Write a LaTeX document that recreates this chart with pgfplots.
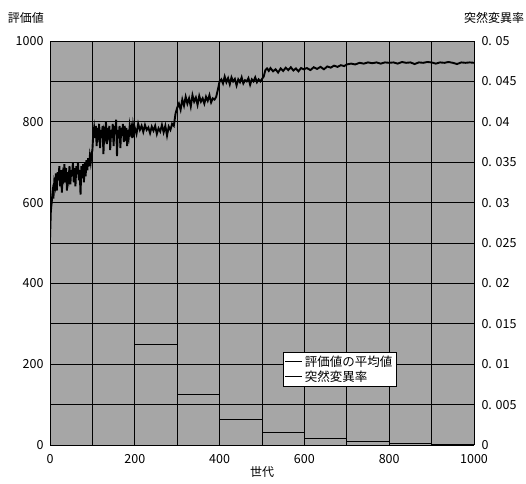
\documentclass[border=0pt]{standalone}
\usepackage{pgfplots}
\pgfplotsset{compat=1.18}
\usepackage{fontspec}
\setmainfont{Noto Sans CJK JP}
\begin{document}
\begin{tikzpicture}
\useasboundingbox (-50pt,-38pt) rectangle (476pt,445pt);
\begin{axis}[
  scale only axis, width=424pt, height=404pt,
  at={(0,0)}, anchor=south west,
  xmin=0, xmax=1000, ymin=0, ymax=1000,
  xtick={0,200,...,1000}, minor xtick={100,300,...,900},
  ytick={0,200,...,1000}, minor ytick={100,300,...,900},
  grid=both,
  major grid style={black, line width=0.7pt},
  minor grid style={black, line width=0.7pt},
  major tick length=0pt, minor tick length=0pt,
  axis y line*=left,
  axis x line*=bottom,
  axis line style={black, line width=0.9pt},
  axis background/.style={fill=gray!70},
  tick label style={font=\fontsize{12.5}{14}\selectfont},
  /pgf/number format/assume math mode=true,
  /pgf/number format/1000 sep={},
  xticklabel style={yshift=-6pt},
  yticklabel style={xshift=-3pt},
  xlabel={世代}, xlabel style={font=\fontsize{12}{14}\selectfont, yshift=4pt},
  clip=true,
]
\addplot[black, line width=1.9pt] coordinates {
(0,510)(2,580)(4,600)(6,625)(8,610)(10,650)(12,640)(14,672)(16,630)(18,675)(20,655)(22,690)(24,640)(26,680)(28,625)(30,670)(32,660)(34,695)(36,650)(38,685)(40,630)(42,675)(44,660)(46,690)(48,645)(50,680)(52,665)(54,700)(56,650)(58,685)(60,640)(62,690)(64,670)(66,700)(68,655)(70,680)(72,620)(74,690)(76,660)(78,695)(80,650)(82,700)(84,665)(86,705)(88,680)(90,710)(92,690)(94,715)(96,700)(98,720)(100,730)
(102,770)(104,785)(106,760)(108,790)(110,740)(112,785)(114,770)(116,795)(118,735)(120,780)(122,760)(124,790)(126,720)(128,775)(130,765)(132,800)(134,745)(136,785)(138,770)(140,790)(142,730)(144,780)(146,760)(148,795)(150,740)(152,790)(154,770)(156,805)(158,715)(160,780)(162,760)(164,790)(166,735)(168,785)(170,765)(172,795)(174,750)(176,790)(178,770)(180,785)(182,740)(184,780)(186,765)(188,790)(190,775)(192,785)(194,760)(196,790)(198,775)(200,785)
(204,770)(208,795)(212,780)(216,790)(220,775)(224,792)(228,780)(232,786)(236,772)(240,788)(244,778)(248,790)(252,770)(256,784)(260,776)(264,792)(268,774)(272,790)(276,766)(280,788)(284,780)(288,795)(292,790)(296,820)(300,835)
(304,845)(308,830)(312,855)(316,840)(320,862)(324,845)(328,858)(332,838)(336,866)(340,850)(344,860)(348,842)(352,864)(356,850)(360,858)(364,845)(368,862)(372,852)(376,866)(380,848)(384,858)(388,855)(392,862)(396,880)(400,900)
(404,905)(408,895)(412,912)(416,898)(420,908)(424,893)(428,910)(432,900)(436,906)(440,890)(444,905)(448,898)(452,910)(456,895)(460,903)(464,900)(468,908)(472,892)(476,905)(480,900)(484,910)(488,898)(492,905)(496,900)(500,906)(504,912)(508,928)(512,932)
(516,926)(520,933)(526,925)(532,930)(538,922)(544,932)(550,926)(556,934)(562,928)(568,935)(574,927)(580,932)(586,925)(592,933)(598,930)
(606,933)(614,928)(622,935)(630,931)(638,936)(646,930)(654,937)(662,934)(670,939)(678,936)(686,940)(694,938)(700,942)
(710,944)(720,942)(730,946)(740,944)(750,947)(760,945)(770,947)(780,944)(790,947)(800,946)(810,947)(820,944)(830,948)(840,946)(850,947)(860,943)(870,947)(880,946)(890,948)(900,947)(910,944)(920,947)(930,946)(940,948)(950,946)(960,943)(970,947)(980,946)(990,947)(1000,946)
};
\end{axis}
\begin{axis}[
  scale only axis, width=424pt, height=404pt,
  at={(0,0)}, anchor=south west,
  xmin=0, xmax=1000, ymin=0, ymax=0.05,
  axis x line=none,
  axis y line*=right,
  axis line style={black, line width=0.9pt},
  major tick length=0pt,
  scaled y ticks=false,
  ytick={0,0.005,...,0.05},
  yticklabels={0,0. 005,0. 01,0. 015,0. 02,0. 025,0. 03,0. 035,0. 04,0. 045,0. 05},
  yticklabel style={font=\fontsize{12.5}{14}\selectfont, anchor=west, xshift=4pt},
  legend style={at={(0.55,0.23)}, anchor=north west, fill=white, draw=black,
    font=\fontsize{12.5}{14}\selectfont, inner sep=1.5pt, row sep=-1pt},
  legend cell align=left,
]
\addlegendimage{black, line width=0.8pt}
\addlegendentry{評価値の平均値}
\addplot[black, line width=0.8pt, const plot] coordinates {
(0,0.05)(100,0.025)(200,0.0125)(300,0.00625)(400,0.003125)(500,0.0015625)(600,0.00078125)(700,0.000390625)(800,0.0001953)(900,0.0000977)(1000,0.0000977)
};
\addlegendentry{突然変異率}
\end{axis}
\node[font=\fontsize{12}{14}\selectfont] at (-24pt,427pt) {評価値};
\node[font=\fontsize{12}{14}\selectfont] at (444pt,427pt) {突然変異率};
\end{tikzpicture}
\end{document}
